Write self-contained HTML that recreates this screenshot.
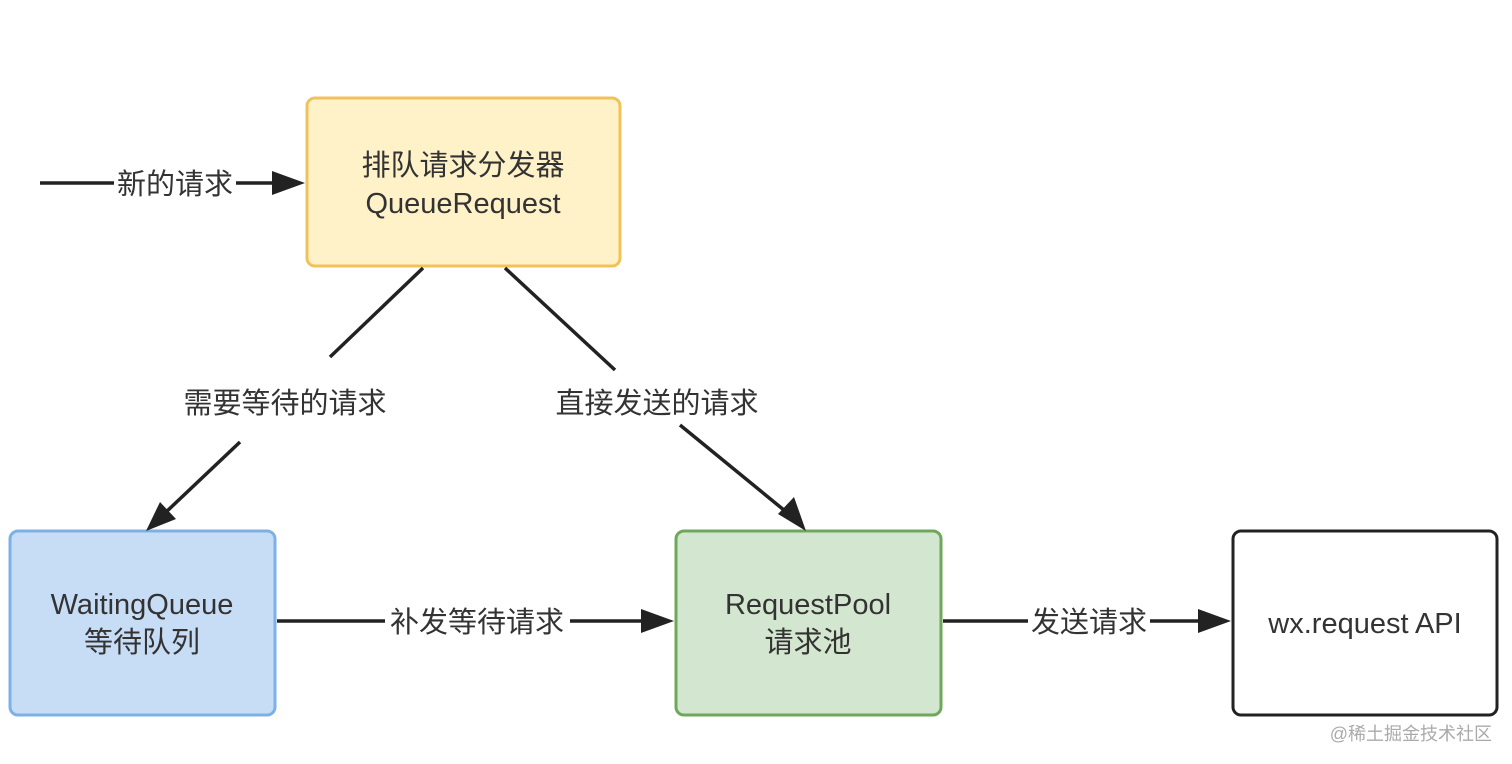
<!DOCTYPE html>
<html><head><meta charset="utf-8"><style>
html,body{margin:0;padding:0;background:#fff;}
svg{display:block;}
text{font-family:"Liberation Sans","Noto Sans CJK SC",sans-serif;fill:#333;}
</style></head><body>
<svg width="1512" height="764" viewBox="0 0 1512 764" xmlns="http://www.w3.org/2000/svg">
<rect x="307" y="98" width="313" height="168" rx="8" fill="#fff2c8" stroke="#f0c35a" stroke-width="3"/>
<rect x="10" y="531" width="265" height="184" rx="8" fill="#c7dcf5" stroke="#7eb0e8" stroke-width="3"/>
<rect x="676" y="531" width="265" height="184" rx="8" fill="#d3e6cf" stroke="#6fa85a" stroke-width="3"/>
<rect x="1233" y="531" width="264" height="184" rx="8" fill="#fff" stroke="#222" stroke-width="3"/>
<text x="463" y="175" font-size="29" text-anchor="middle">排队请求分发器</text>
<text x="463" y="213" font-size="29" text-anchor="middle">QueueRequest</text>
<text x="142" y="614" font-size="29" text-anchor="middle">WaitingQueue</text>
<text x="142" y="652" font-size="29" text-anchor="middle">等待队列</text>
<text x="808" y="614" font-size="29" text-anchor="middle">RequestPool</text>
<text x="808" y="652" font-size="29" text-anchor="middle">请求池</text>
<text x="1365" y="633" font-size="29" text-anchor="middle">wx.request API</text>
<g stroke="#222" stroke-width="3.5" fill="none">
<line x1="40" y1="183" x2="114" y2="183"/><line x1="236" y1="183" x2="275" y2="183"/>
<line x1="423" y1="268" x2="330" y2="357"/><line x1="240" y1="442" x2="165" y2="513"/>
<line x1="505" y1="268" x2="615" y2="370"/><line x1="680" y1="425" x2="790" y2="515"/>
<line x1="277" y1="621" x2="385" y2="621"/><line x1="570" y1="621" x2="645" y2="621"/>
<line x1="943" y1="621" x2="1028" y2="621"/><line x1="1150" y1="621" x2="1202" y2="621"/>
</g>
<g fill="#222">
<polygon points="305,183 272,171 272,195"/>
<polygon points="146,531 160,502 176,519"/>
<polygon points="806,531 778,514 794,497"/>
<polygon points="674,621 641,609 641,633"/>
<polygon points="1231,621 1198,609 1198,633"/>
</g>
<text x="175" y="194" font-size="29" text-anchor="middle">新的请求</text>
<text x="285" y="413" font-size="29" text-anchor="middle">需要等待的请求</text>
<text x="657" y="413" font-size="29" text-anchor="middle">直接发送的请求</text>
<text x="477" y="632" font-size="29" text-anchor="middle">补发等待请求</text>
<text x="1089" y="632" font-size="29" text-anchor="middle">发送请求</text>
<text x="1492" y="740" font-size="18" text-anchor="end" style="fill:#aaa">@稀土掘金技术社区</text>
</svg>
</body></html>
